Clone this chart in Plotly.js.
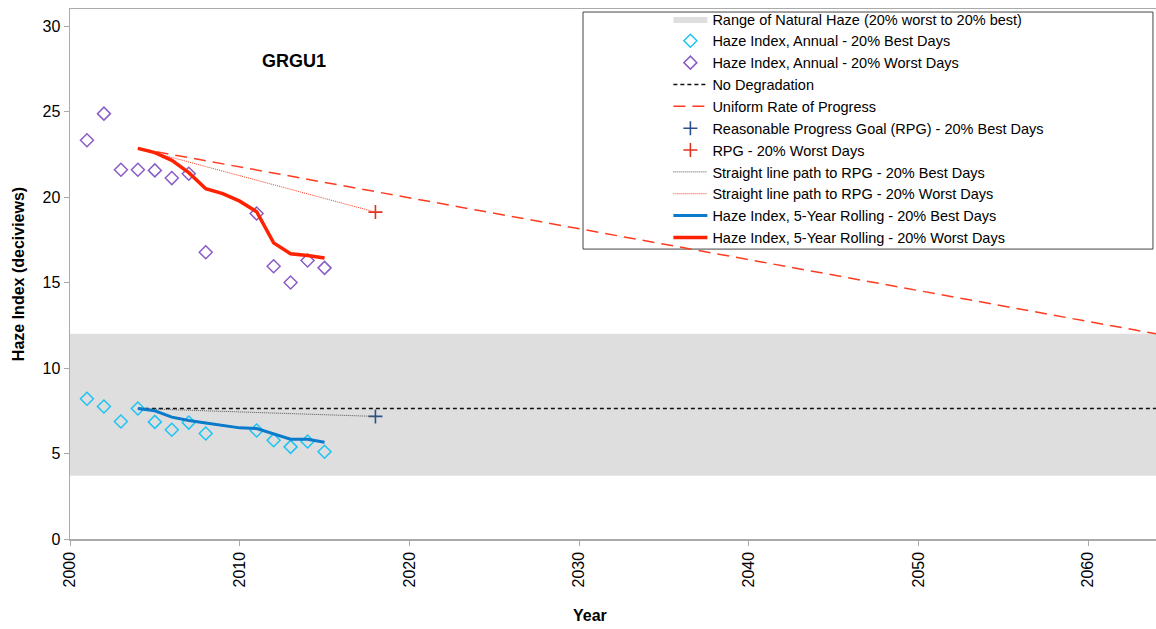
<!DOCTYPE html>
<html>
<head>
<meta charset="utf-8">
<script src="https://cdn.plot.ly/plotly-3.0.1.min.js"></script>
<style>html,body{margin:0;padding:0;background:#fff;}#chart{width:1156px;height:629px;}</style>
</head>
<body>
<div id="chart"></div>
<script>
// ---- data ----
const siteName = "GRGU1";
const annualYears = [2001, 2002, 2003, 2004, 2005, 2006, 2007, 2008, 2011, 2012, 2013, 2014, 2015];
const annualBest  = [8.2, 7.75, 6.87, 7.63, 6.85, 6.39, 6.81, 6.17, 6.35, 5.78, 5.39, 5.7, 5.1];
const annualWorst = [23.32, 24.88, 21.6, 21.6, 21.56, 21.11, 21.36, 16.77, 19.04, 15.95, 15.0, 16.29, 15.86];
const rollingYears = [2004, 2005, 2006, 2007, 2008, 2009, 2010, 2011, 2012, 2013, 2014, 2015];
const rollingBest  = [7.63, 7.5, 7.13, 6.93, 6.78, 6.62, 6.5, 6.46, 6.15, 5.84, 5.84, 5.66];
const rollingWorst = [22.85, 22.6, 22.15, 21.43, 20.49, 20.2, 19.76, 19.14, 17.32, 16.68, 16.58, 16.44];
const baselineYear = 2004;
const rpgYear = 2018;
const endYear = 2064;
const rpgBest = 7.17;
const rpgWorst = 19.12;
const naturalBest = 3.7;
const naturalWorst = 12.0;
const baselineBest = 7.63;
const baselineWorst = 22.85;
const startYear = 2000;

const font = "Liberation Sans, Arial, sans-serif";

const traces = [
  {x: [startYear, endYear], y: [naturalBest, naturalBest], mode: "lines", line: {width: 0, color: "#dedede"},
   showlegend: false, hoverinfo: "skip"},
  {x: [startYear, endYear], y: [naturalWorst, naturalWorst], mode: "lines", fill: "tonexty", fillcolor: "#dedede",
   line: {width: 0, color: "#dedede"}, name: "Range of Natural Haze (20% worst to 20% best)"},
  {x: annualYears, y: annualBest, mode: "markers", name: "Haze Index, Annual - 20% Best Days",
   marker: {symbol: "diamond-open", size: 10, color: "#1ec3f2", line: {width: 1.5}}},
  {x: annualYears, y: annualWorst, mode: "markers", name: "Haze Index, Annual - 20% Worst Days",
   marker: {symbol: "diamond-open", size: 10, color: "#8a5cc6", line: {width: 1.5}}},
  {x: [baselineYear, endYear], y: [baselineBest, baselineBest], mode: "lines", name: "No Degradation",
   line: {color: "#111", width: 1.5, dash: "4px,3px"}},
  {x: [baselineYear, endYear], y: [baselineWorst, naturalWorst], mode: "lines", name: "Uniform Rate of Progress",
   line: {color: "#ff3b1f", width: 1.5, dash: "12px,7px"}},
  {x: [rpgYear], y: [rpgBest], mode: "markers", name: "Reasonable Progress Goal (RPG) - 20% Best Days",
   marker: {symbol: "cross-thin-open", size: 10, color: "#2a4f8f", line: {width: 1.6, color: "#2a4f8f"}}},
  {x: [rpgYear], y: [rpgWorst], mode: "markers", name: "RPG - 20% Worst Days",
   marker: {symbol: "cross-thin-open", size: 10, color: "#e0321e", line: {width: 1.6, color: "#e0321e"}}},
  {x: [baselineYear, rpgYear], y: [baselineBest, rpgBest], mode: "lines", name: "Straight line path to RPG - 20% Best Days",
   line: {color: "#555", width: 1, dash: "1px,1px"}},
  {x: [baselineYear, rpgYear], y: [baselineWorst, rpgWorst], mode: "lines", name: "Straight line path to RPG - 20% Worst Days",
   line: {color: "#ff3b1f", width: 1, dash: "1px,1px"}},
  {x: rollingYears, y: rollingBest, mode: "lines", name: "Haze Index, 5-Year Rolling - 20% Best Days",
   line: {color: "#0a7acb", width: 3}},
  {x: rollingYears, y: rollingWorst, mode: "lines", name: "Haze Index, 5-Year Rolling - 20% Worst Days",
   line: {color: "#ff2200", width: 3.5}}
];

const layout = {
  width: 1156, height: 629,
  margin: {l: 70, r: 0, t: 9, b: 90},
  paper_bgcolor: "#fff", plot_bgcolor: "#fff",
  font: {family: font, size: 16, color: "#000"},
  showlegend: true,
  legend: {
    x: 0.551, xanchor: "left", y: 1.0113, yanchor: "top",
    traceorder: "normal",
    bgcolor: "rgba(255,255,255,0)", borderwidth: 0,
    font: {family: font, size: 14.5, color: "#000"},
    tracegroupgap: 0, itemwidth: 34
  },
  shapes: [
    {type: "rect", xref: "paper", yref: "paper", x0: 0.4724, x1: 0.9972, y0: 0.547, y1: 0.9943,
     fillcolor: "#fff", line: {color: "#444", width: 1}, layer: "below"}
  ],
  xaxis: {
    range: [startYear, endYear], dtick: 10, tick0: 2000, tickangle: -90,
    showgrid: false, zeroline: false, showline: true, linecolor: "#aaa", linewidth: 1.5, mirror: true,
    ticks: "outside", ticklen: 5, tickcolor: "#aaa",
    tickfont: {family: font, size: 16}
  },
  yaxis: {
    range: [0, 31], dtick: 5, tick0: 0,
    showgrid: false, zeroline: false, showline: true, linecolor: "#aaa", linewidth: 1.5,
    ticks: "outside", ticklen: 5, tickcolor: "#aaa",
    tickfont: {family: font, size: 16},
    title: {text: "<b>Haze Index (deciviews)</b>", font: {family: font, size: 16}, standoff: 14}
  },
  annotations: [
    {x: 2013.2, y: 27.95, xref: "x", yref: "y", text: "<b>" + siteName + "</b>", showarrow: false,
     font: {family: font, size: 18, color: "#000"}},
    {x: 0.479, y: -0.145, xref: "paper", yref: "paper", text: "<b>Year</b>", showarrow: false,
     xanchor: "center", yanchor: "middle", font: {family: font, size: 16, color: "#000"}}
  ]
};

Plotly.newPlot("chart", traces, layout, {displayModeBar: false, staticPlot: true});
</script>
</body>
</html>
